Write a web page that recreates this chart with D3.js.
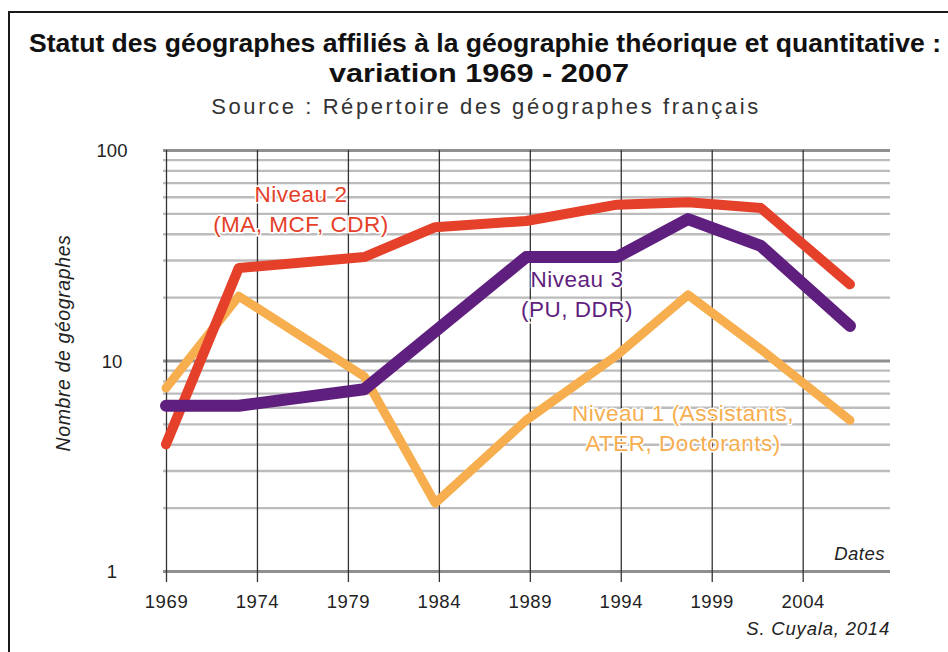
<!DOCTYPE html>
<html>
<head>
<meta charset="utf-8">
<script src="https://cdn.jsdelivr.net/npm/d3@7"></script>
<style>
  html, body { margin: 0; padding: 0; background: #fff; }
  svg { display: block; }
</style>
</head>
<body>
<script>
// Survey dates (x) and head-counts per level (log scale)
const dates   = [1969, 1973, 1979.9, 1983.8, 1988.8, 1993.8, 1997.7, 2001.7, 2006.6];
const niveau1 = [7.4, 20.2, 8.4, 2.1, 5.2, 10.6, 20.5, 11.3, 5.2];
const niveau2 = [4.0, 27.5, 31, 43, 46, 55, 56.5, 53, 23];
const niveau3 = [6.1, 6.1, 7.3, null, 31, 31, 47, 35, 14.6];

const tickYears = [1969, 1974, 1979, 1984, 1989, 1994, 1999, 2004];
const yLabelValues = [1, 10, 100];

const W = 948, H = 652;
const font = "'Liberation Sans', Arial, sans-serif";
const svg = d3.select("body").append("svg").attr("width", W).attr("height", H);

// frame
svg.append("path")
  .attr("d", "M9,652 V12 H948")
  .attr("fill", "none").attr("stroke", "#1a1a1a").attr("stroke-width", 2);

const x = d3.scaleLinear().domain([1969, 2008.8]).range([166, 890]);
const y = d3.scaleLog().domain([1, 100]).range([571, 150]);

// horizontal grid (all log subdivisions)
const gridValues = [];
[1, 10].forEach(dec => d3.range(1, 10).forEach(k => gridValues.push(dec * k)));
gridValues.push(100);

const yAxis = d3.axisLeft(y)
  .tickValues(gridValues)
  .tickSize(-(890 - 163))
  .tickFormat(d => yLabelValues.includes(d) ? String(d) : "");
const gy = svg.append("g").attr("transform", "translate(163,0)").call(yAxis);
gy.select(".domain").remove();
gy.selectAll(".tick line")
  .attr("stroke", d => yLabelValues.includes(d) ? "#8f8f8f" : "#bcbcbc")
  .attr("stroke-width", d => yLabelValues.includes(d) ? 3 : 2.4);
gy.selectAll(".tick text")
  .attr("x", 112 - 163).attr("text-anchor", "middle").attr("dy", "0.36em")
  .attr("font-family", font)
  .attr("font-size", 18.5).attr("fill", "#222");

// vertical grid + ticks
const xAxis = d3.axisBottom(x)
  .tickValues(tickYears)
  .tickSize(-(582 - 150))
  .tickPadding(13)
  .tickFormat(d3.format("d"));
const gx = svg.append("g").attr("transform", "translate(0,582)").call(xAxis);
gx.select(".domain").remove();
gx.selectAll(".tick line").attr("stroke", "#333").attr("stroke-width", 1.3);
gx.selectAll(".tick text")
  .attr("font-family", font)
  .attr("font-size", 18.5).attr("letter-spacing", 0.6).attr("fill", "#222");

// series
const line = d3.line().x(d => x(d.t)).y(d => y(d.v)).curve(d3.curveLinear);
const series = [
  { values: niveau1, color: "#f6ae4f", width: 9 },
  { values: niveau2, color: "#e5402a", width: 10 },
  { values: niveau3, color: "#5f1f7e", width: 12 }
];
series.forEach(s => {
  const pts = dates.map((t, i) => ({ t, v: s.values[i] })).filter(d => d.v != null);
  svg.append("path")
    .datum(pts)
    .attr("d", line)
    .attr("fill", "none")
    .attr("stroke", s.color)
    .attr("stroke-width", s.width)
    .attr("stroke-linejoin", "round")
    .attr("stroke-linecap", "round");
});

// series labels
const labels = [
  { lines: ["Niveau 2", "(MA, MCF, CDR)"], cx: 301, y0: 202, color: "#e5402a" },
  { lines: ["Niveau 3", "(PU, DDR)"], cx: 577, y0: 287, color: "#5f1f7e" },
  { lines: ["Niveau 1 (Assistants,", "ATER, Doctorants)"], cx: 683, y0: 421, color: "#f6ae4f" }
];
labels.forEach(l => {
  l.lines.forEach((txt, i) => {
    svg.append("text")
      .attr("x", l.cx).attr("y", l.y0 + i * 30)
      .attr("text-anchor", "middle")
      .attr("font-family", font)
      .attr("font-size", 22.5).attr("letter-spacing", 0.5)
      .attr("fill", l.color)
      .attr("stroke", "#fff").attr("stroke-width", 3)
      .attr("paint-order", "stroke")
      .text(txt);
  });
});

// titles
svg.append("text").attr("x", 485).attr("y", 52).attr("text-anchor", "middle")
  .attr("font-family", font).attr("font-weight", "bold").attr("font-size", 26)
  .attr("textLength", 912).attr("lengthAdjust", "spacingAndGlyphs")
  .attr("fill", "#111")
  .text("Statut des géographes affiliés à la géographie théorique et quantitative :");
svg.append("text").attr("x", 479).attr("y", 82).attr("text-anchor", "middle")
  .attr("font-family", font).attr("font-weight", "bold").attr("font-size", 26)
  .attr("textLength", 300).attr("lengthAdjust", "spacingAndGlyphs")
  .attr("fill", "#111")
  .text("variation 1969 - 2007");
svg.append("text").attr("x", 486).attr("y", 114).attr("text-anchor", "middle")
  .attr("font-family", font).attr("font-size", 22).attr("letter-spacing", 2.6)
  .attr("fill", "#333")
  .text("Source : Répertoire des géographes français");

// axis titles and credit
svg.append("text")
  .attr("transform", "translate(70,343) rotate(-90)")
  .attr("text-anchor", "middle")
  .attr("font-family", font).attr("font-style", "italic").attr("font-size", 19.5)
  .attr("letter-spacing", 0.6)
  .attr("fill", "#222")
  .text("Nombre de géographes");
svg.append("text").attr("x", 885).attr("y", 560).attr("text-anchor", "end")
  .attr("font-family", font).attr("font-style", "italic").attr("font-size", 18.5)
  .attr("letter-spacing", 0.5).attr("fill", "#222")
  .text("Dates");
svg.append("text").attr("x", 890).attr("y", 635).attr("text-anchor", "end")
  .attr("font-family", font).attr("font-style", "italic").attr("font-size", 18.5)
  .attr("letter-spacing", 0.8).attr("fill", "#222")
  .text("S. Cuyala, 2014");
</script>
</body>
</html>
